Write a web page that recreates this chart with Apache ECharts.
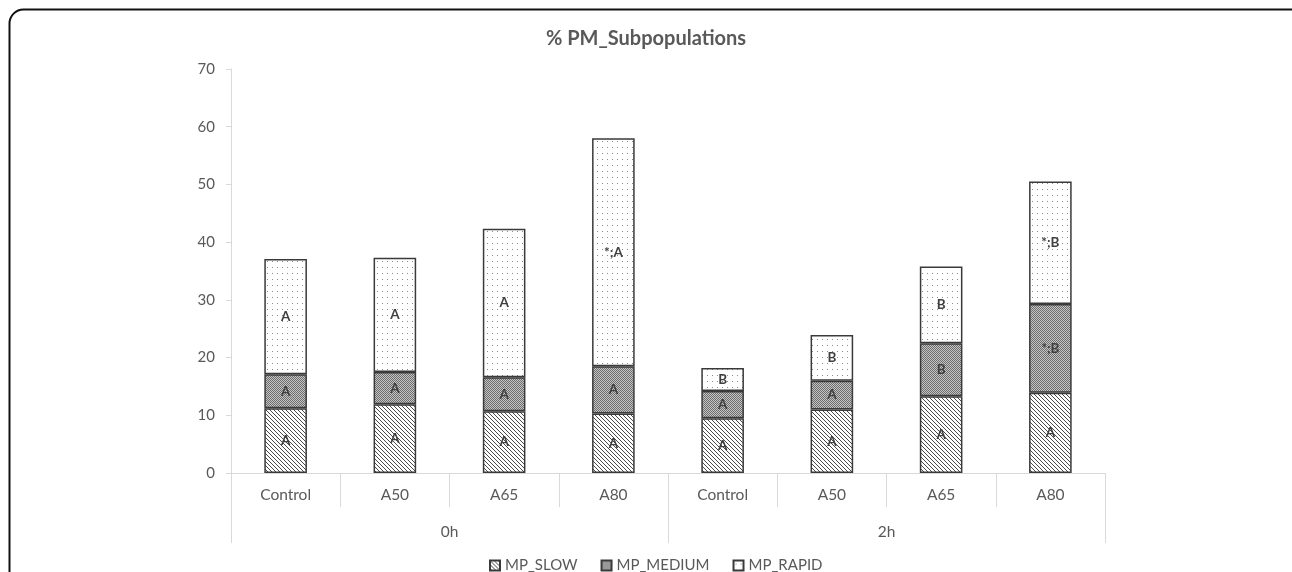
<!DOCTYPE html>
<html>
<head>
<meta charset="utf-8">
<script src="https://cdn.jsdelivr.net/npm/echarts@6/dist/echarts.min.js"></script>
<style>
html,body{margin:0;padding:0;background:#fff;}
#main{width:1292px;height:572px;}
</style>
</head>
<body>
<div id="main"></div>
<script>
// ---- data ----
const categories = ['Control', 'A50', 'A65', 'A80', 'Control', 'A50', 'A65', 'A80'];
const groups = ['0h', '2h'];
const seriesNames = ['MP_SLOW', 'MP_MEDIUM', 'MP_RAPID'];
const slowValues = [11.2, 11.9, 10.7, 10.3, 9.5, 11.0, 13.3, 13.9];
const mediumValues = [5.9, 5.6, 5.9, 8.2, 4.7, 5.0, 9.2, 15.4];
const rapidValues = [20.0, 19.8, 25.7, 39.5, 4.0, 7.9, 13.3, 21.2];
const slowLabels = ['A', 'A', 'A', 'A', 'A', 'A', 'A', 'A'];
const mediumLabels = ['A', 'A', 'A', 'A', 'A', 'A', 'B', '*;B'];
const rapidLabels = ['A', 'A', 'A', '*;A', 'B', 'B', 'B', '*;B'];
const yTicks = {min: 0, max: 70, interval: 10};

// ---- patterns ----
function makeCanvas(w, h, draw) {
  const c = document.createElement('canvas');
  c.width = w; c.height = h;
  const ctx = c.getContext('2d');
  draw(ctx, w, h);
  return c;
}
const hatch = makeCanvas(4, 4, (ctx, w, h) => {
  ctx.fillStyle = '#ffffff';
  ctx.fillRect(0, 0, w, h);
  ctx.strokeStyle = '#4a4a4a';
  ctx.lineWidth = 1;
  ctx.beginPath();
  ctx.moveTo(-1, -1); ctx.lineTo(w + 1, h + 1);
  ctx.moveTo(-1, h - 1); ctx.lineTo(1, h + 1);
  ctx.moveTo(w - 1, -1); ctx.lineTo(w + 1, 1);
  ctx.stroke();
});
const checker = makeCanvas(2, 2, (ctx) => {
  ctx.fillStyle = '#c4c4c4';
  ctx.fillRect(0, 0, 2, 2);
  ctx.fillStyle = '#6e6e6e';
  ctx.fillRect(0, 0, 1, 1);
  ctx.fillRect(1, 1, 1, 1);
});
const dots = makeCanvas(5, 6, (ctx) => {
  ctx.fillStyle = '#ffffff';
  ctx.fillRect(0, 0, 5, 6);
  ctx.fillStyle = '#8a8a8a';
  ctx.fillRect(2, 3, 1, 1);
});

const FONT = 'Lato, "Open Sans", sans-serif';
const labelStyle = (arr) => ({
  show: true,
  position: 'inside',
  color: '#404040',
  fontFamily: FONT,
  fontWeight: 'bold',
  fontSize: 13.5,
  textBorderWidth: 0,
  formatter: (p) => arr[p.dataIndex]
});

function barSeries(name, values, labels, pattern) {
  return {
    name: name,
    type: 'bar',
    stack: 'total',
    barWidth: '39%',
    data: values,
    itemStyle: {
      color: {image: pattern, repeat: 'repeat'},
      borderColor: '#3a3a3a',
      borderWidth: 1.5
    },
    label: labelStyle(labels),
    emphasis: {disabled: true}
  };
}

const chart = echarts.init(document.getElementById('main'), null, {renderer: 'canvas'});
chart.setOption({
  animation: false,
  backgroundColor: '#ffffff',
  title: {
    text: '% PM_Subpopulations',
    left: 'center',
    top: 24,
    textStyle: {fontFamily: FONT, fontSize: 20, fontWeight: 'bold', color: '#595959'}
  },
  legend: {
    data: seriesNames,
    left: 484,
    top: 553,
    icon: 'rect',
    itemWidth: 10,
    itemHeight: 10,
    itemGap: 23,
    textStyle: {fontFamily: FONT, fontSize: 15, color: '#595959'}
  },
  grid: {left: 231, top: 69, width: 874, height: 404, containLabel: false},
  xAxis: [
    {
      type: 'category',
      data: categories,
      position: 'bottom',
      axisLine: {show: true, lineStyle: {color: '#d9d9d9', width: 1}},
      axisTick: {show: true, interval: 0, length: 34, lineStyle: {color: '#d9d9d9'}},
      axisLabel: {interval: 0, margin: 14, fontFamily: FONT, fontSize: 15.5, color: '#595959'},
      splitLine: {show: false}
    },
    {
      type: 'category',
      data: groups,
      position: 'bottom',
      offset: 34,
      axisLine: {show: false},
      axisTick: {show: true, interval: 0, length: 36, lineStyle: {color: '#d9d9d9'}},
      axisLabel: {interval: 0, margin: 17, fontFamily: FONT, fontSize: 15.5, color: '#595959'},
      splitLine: {show: false}
    }
  ],
  yAxis: {
    type: 'value',
    min: yTicks.min,
    max: yTicks.max,
    interval: yTicks.interval,
    axisLine: {show: true, lineStyle: {color: '#d9d9d9'}},
    axisTick: {show: true, length: 5, lineStyle: {color: '#d9d9d9'}},
    axisLabel: {margin: 16, fontFamily: FONT, fontSize: 15, color: '#595959'},
    splitLine: {show: false}
  },
  graphic: [
    {
      type: 'rect',
      shape: {x: 9.5, y: 9.5, width: 1300, height: 620, r: 14},
      style: {fill: 'none', stroke: '#111111', lineWidth: 2},
      silent: true,
      z: 100
    }
  ],
  series: [
    barSeries(seriesNames[0], slowValues, slowLabels, hatch),
    barSeries(seriesNames[1], mediumValues, mediumLabels, checker),
    barSeries(seriesNames[2], rapidValues, rapidLabels, dots)
  ]
});
</script>
</body>
</html>
